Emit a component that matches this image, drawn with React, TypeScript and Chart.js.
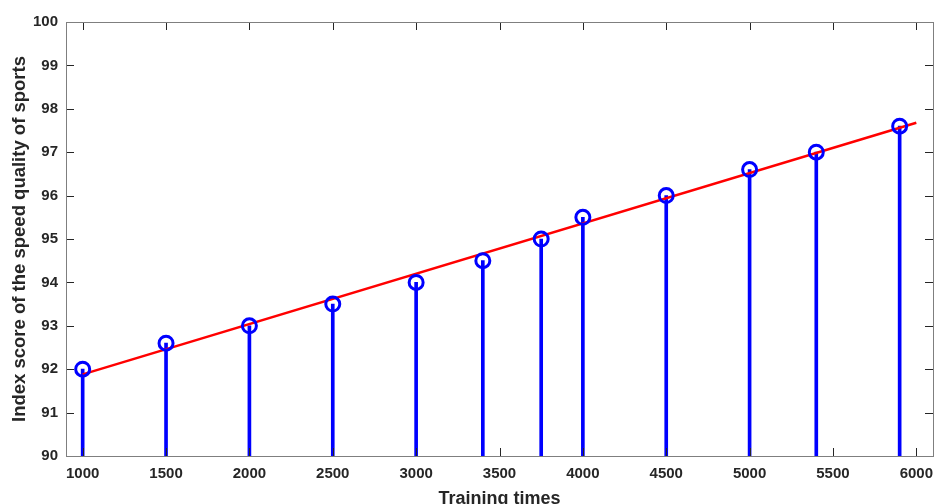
import React, { useEffect, useRef } from "react";
import { Chart, registerables } from "chart.js";

Chart.register(...registerables);

const trainingTimes = [1000, 1500, 2000, 2500, 3000, 3400, 3750, 4000, 4500, 5000, 5400, 5900];
const indexScores = [92, 92.6, 93, 93.5, 94, 94.5, 95, 95.5, 96, 96.6, 97, 97.6];
const fitX = [1000, 6000];
const fitY = [91.88, 97.68];
const xTicks = [1000, 1500, 2000, 2500, 3000, 3500, 4000, 4500, 5000, 5500, 6000];
const yTicks = [90, 91, 92, 93, 94, 95, 96, 97, 98, 99, 100];

const AXIS_COLOR = "#262626";
const TEXT_COLOR = "#262626";
const FONT = "'Liberation Sans', Arial, sans-serif";

const boxPlugin = {
  id: "matlabBox",
  afterDatasetsDraw(chart: any) {
    const { ctx, chartArea } = chart;
    const { left, right, top, bottom } = chartArea;
    const xs = chart.scales.x;
    const ys = chart.scales.y;
    const tl = 8;
    ctx.save();
    ctx.strokeStyle = AXIS_COLOR;
    ctx.lineWidth = 1;
    ctx.beginPath();
    for (const v of xTicks) {
      const px = Math.round(xs.getPixelForValue(v)) + 0.5;
      ctx.moveTo(px, bottom);
      ctx.lineTo(px, bottom - tl);
      ctx.moveTo(px, top);
      ctx.lineTo(px, top + tl);
    }
    for (const v of yTicks) {
      const py = Math.round(ys.getPixelForValue(v)) + 0.5;
      ctx.moveTo(left, py);
      ctx.lineTo(left + tl, py);
      ctx.moveTo(right, py);
      ctx.lineTo(right - tl, py);
    }
    ctx.stroke();
    ctx.strokeStyle = "#7f7f7f";
    ctx.strokeRect(Math.round(left) + 0.5, Math.round(top) + 0.5, Math.round(right - left), Math.round(bottom - top));
    ctx.restore();
  },
};

export default function App() {
  const ref = useRef<HTMLCanvasElement | null>(null);

  useEffect(() => {
    document.body.style.margin = "0";
    if (!ref.current) return;
    const stems = trainingTimes.map((x, i) => ({ x, y: indexScores[i] }));
    const fit = fitX.map((x, i) => ({ x, y: fitY[i] }));
    const chart = new Chart(ref.current, {
      type: "bar",
      data: {
        datasets: [
          {
            type: "line" as any,
            data: stems,
            showLine: false,
            pointRadius: 7,
            pointHoverRadius: 7,
            pointBorderWidth: 3,
            pointBorderColor: "#0000ff",
            pointBackgroundColor: "rgba(0,0,0,0)",
            borderColor: "#0000ff",
            order: 0,
          } as any,
          {
            type: "line" as any,
            data: fit,
            borderColor: "#ff0000",
            borderWidth: 2.5,
            pointRadius: 0,
            fill: false,
            tension: 0,
            order: 1,
          } as any,
          {
            type: "bar",
            data: stems,
            backgroundColor: "#0000ff",
            barThickness: 3,
            order: 2,
          } as any,
        ],
      },
      options: {
        animation: false,
        responsive: false,
        maintainAspectRatio: false,
        layout: { autoPadding: false, padding: { top: 22, right: 3, left: 0, bottom: 0 } },
        plugins: { legend: { display: false }, tooltip: { enabled: false } },
        scales: {
          x: {
            type: "linear",
            min: 900,
            max: 6100,
            offset: false,
            afterBuildTicks: (scale: any) => {
              scale.ticks = xTicks.map((v) => ({ value: v }));
            },
            afterFit: (scale: any) => {
              scale.height = 48;
              scale.paddingLeft = 0;
              scale.paddingRight = 0;
            },
            grid: { display: false, drawTicks: false },
            border: { display: true, color: "#7f7f7f" },
            ticks: {
              color: TEXT_COLOR,
              font: { family: FONT, size: 15, weight: "bold" },
              padding: 9,
              maxRotation: 0,
              autoSkip: false,
              callback: (v: any) => String(v),
            },
            title: {
              display: true,
              text: "Training times",
              color: TEXT_COLOR,
              font: { family: FONT, size: 18, weight: "bold" },
              padding: { top: 0, bottom: -6 },
            },
          },
          y: {
            type: "linear",
            min: 90,
            max: 100,
            afterBuildTicks: (scale: any) => {
              scale.ticks = yTicks.map((v) => ({ value: v }));
            },
            afterFit: (scale: any) => {
              scale.width = 66;
              scale.paddingTop = 0;
              scale.paddingBottom = 0;
            },
            grid: { display: false, drawTicks: false },
            border: { display: true, color: "#7f7f7f" },
            ticks: {
              color: TEXT_COLOR,
              font: { family: FONT, size: 15, weight: "bold" },
              padding: 8,
              autoSkip: false,
              callback: (v: any) => String(v),
            },
            title: {
              display: true,
              text: "Index score of the speed quality of sports",
              color: TEXT_COLOR,
              font: { family: FONT, size: 18.5, weight: "bold" },
              padding: { top: 9, bottom: 0 },
            },
          },
        },
      },
      plugins: [boxPlugin],
    });
    return () => chart.destroy();
  }, []);

  return (
    <div style={{ width: 936, height: 504, background: "#fff" }}>
      <canvas ref={ref} width={936} height={504} style={{ display: "block" }} />
    </div>
  );
}
